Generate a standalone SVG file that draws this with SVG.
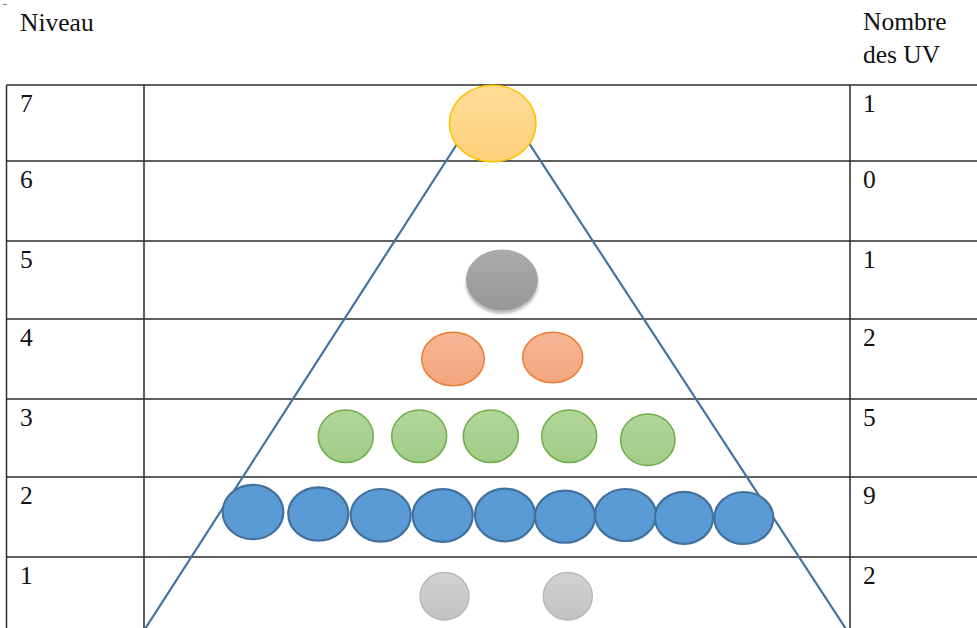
<svg xmlns="http://www.w3.org/2000/svg" width="977" height="628" viewBox="0 0 977 628">
<defs>
<style>
.t{font-family:'Liberation Serif','Times New Roman',Times,Tinos,'Nimbus Roman','Noto Serif','DejaVu Serif',serif;font-size:25.5px;fill:#111}
.grid{stroke:#2b2b2b;stroke-width:1.5;fill:none}
.tri{stroke:#44729F;stroke-width:2.2;fill:none}
.yel{fill:url(#gY);stroke:#FFC000;stroke-width:1.5}
.gry{fill:url(#gG);filter:url(#soft)}
.ora{fill:url(#gO);stroke:#ED7D31;stroke-width:1.5}
.grn{fill:url(#gGr);stroke:#70AD47;stroke-width:1.5}
.blu{fill:#5B9BD5;stroke:#41719C;stroke-width:2.2}
.lgr{fill:url(#gL);stroke:#B8B8B8;stroke-width:1.5}
</style>
<linearGradient id="gY" x1="0" y1="0" x2="0" y2="1"><stop offset="0" stop-color="#FFDC96"/><stop offset="1" stop-color="#FFD07C"/></linearGradient>
<linearGradient id="gG" x1="0" y1="0" x2="0" y2="1"><stop offset="0" stop-color="#ABABAB"/><stop offset="1" stop-color="#979797"/></linearGradient>
<linearGradient id="gO" x1="0" y1="0" x2="0" y2="1"><stop offset="0" stop-color="#F6B795"/><stop offset="1" stop-color="#F3A57F"/></linearGradient>
<linearGradient id="gGr" x1="0" y1="0" x2="0" y2="1"><stop offset="0" stop-color="#B1D69A"/><stop offset="1" stop-color="#A1CB86"/></linearGradient>
<linearGradient id="gL" x1="0" y1="0" x2="0" y2="1"><stop offset="0" stop-color="#D2D2D2"/><stop offset="1" stop-color="#C2C2C2"/></linearGradient>
<filter id="soft" x="-20%" y="-20%" width="140%" height="150%">
<feGaussianBlur in="SourceAlpha" stdDeviation="1.8" result="b"/>
<feOffset in="b" dy="2.5" result="o"/>
<feFlood flood-color="#000" flood-opacity="0.3"/>
<feComposite in2="o" operator="in" result="s"/>
<feGaussianBlur in="SourceGraphic" stdDeviation="0.5" result="g"/>
<feMerge><feMergeNode in="s"/><feMergeNode in="g"/></feMerge>
</filter>
</defs>
<rect width="977" height="628" fill="#fff"/>
<line x1="3" y1="4.5" x2="7" y2="4.5" stroke="#888" stroke-width="1"/>
<g id="table">
<text class="t" x="20" y="31">Niveau</text>
<text class="t" x="863" y="30">Nombre</text>
<text class="t" x="863" y="63">des UV</text>
<path class="grid" d="M6.5 85V628M144 85V628M850 85V628M6.5 85H977M6.5 161H977M6.5 241H977M6.5 319H977M6.5 399H977M6.5 477H977M6.5 557H977"/>
<text class="t" x="20" y="111.5">7</text><text class="t" x="863" y="111.5">1</text>
<text class="t" x="20" y="187.5">6</text><text class="t" x="863" y="187.5">0</text>
<text class="t" x="20" y="267.5">5</text><text class="t" x="863" y="267.5">1</text>
<text class="t" x="20" y="345.5">4</text><text class="t" x="863" y="345.5">2</text>
<text class="t" x="20" y="425.5">3</text><text class="t" x="863" y="425.5">5</text>
<text class="t" x="20" y="503.5">2</text><text class="t" x="863" y="503.5">9</text>
<text class="t" x="20" y="583.5">1</text><text class="t" x="863" y="583.5">2</text>
</g>
<g id="connectors">
<line class="tri" x1="493" y1="88" x2="145" y2="629"/>
<line class="tri" x1="493" y1="88" x2="846" y2="629"/>
</g>
<g id="level7"><ellipse class="yel" cx="492.7" cy="123.5" rx="43.3" ry="38.3"/></g>
<g id="level5"><ellipse class="gry" cx="502" cy="280" rx="36" ry="30.5"/></g>
<g id="level4">
<ellipse class="ora" cx="453" cy="359" rx="31.3" ry="26.7"/>
<ellipse class="ora" cx="552.7" cy="357.5" rx="30" ry="25.2"/>
</g>
<g id="level3">
<ellipse class="grn" cx="345.8" cy="436.3" rx="27.5" ry="26.3"/>
<ellipse class="grn" cx="419.2" cy="436.3" rx="27.5" ry="26.3"/>
<ellipse class="grn" cx="490.8" cy="436.3" rx="27.5" ry="26.3"/>
<ellipse class="grn" cx="569.2" cy="436.3" rx="27.5" ry="26.3"/>
<ellipse class="grn" cx="647.8" cy="439.8" rx="27.2" ry="25.8"/>
</g>
<g id="level2">
<ellipse class="blu" cx="253" cy="512" rx="30.3" ry="27.2"/>
<ellipse class="blu" cx="318.3" cy="514" rx="30" ry="26.7"/>
<ellipse class="blu" cx="380.7" cy="515.3" rx="30" ry="26.3"/>
<ellipse class="blu" cx="442.7" cy="515.5" rx="30" ry="26.3"/>
<ellipse class="blu" cx="505" cy="515" rx="30" ry="26.3"/>
<ellipse class="blu" cx="565" cy="516.7" rx="30" ry="26"/>
<ellipse class="blu" cx="625.5" cy="515" rx="30.5" ry="26"/>
<ellipse class="blu" cx="684" cy="517.8" rx="29" ry="26"/>
<ellipse class="blu" cx="743.8" cy="518" rx="29.5" ry="26"/>
</g>
<g id="level1">
<ellipse class="lgr" cx="444.5" cy="596.3" rx="24.5" ry="23.7"/>
<ellipse class="lgr" cx="567.8" cy="596.3" rx="24.5" ry="23.7"/>
</g>
</svg>
